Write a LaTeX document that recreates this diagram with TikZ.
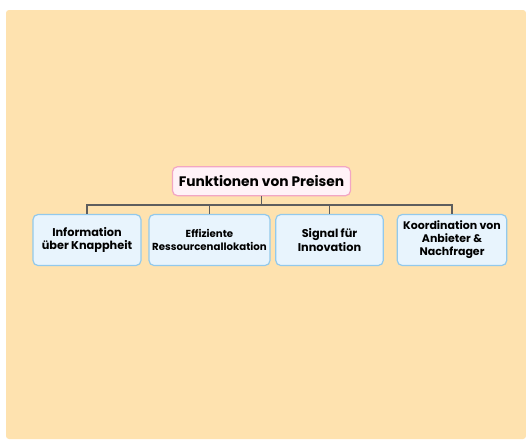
\documentclass[tikz,border=0pt]{standalone}
\usepackage{fontspec}
\setmainfont{Poppins}
\definecolor{panel}{HTML}{FEE2AF}
\definecolor{rootfill}{HTML}{FFF2F8}
\definecolor{rootline}{HTML}{F2A6C4}
\definecolor{leaffill}{HTML}{E8F4FD}
\definecolor{leafline}{HTML}{92C9EC}
\definecolor{link}{HTML}{5E5E5E}
\begin{document}
\begin{tikzpicture}[x=1pt,y=-1pt,
  rootbox/.style={draw=rootline,fill=rootfill,line width=1.2pt,rounded corners=5pt,
    minimum width=178pt,minimum height=29pt,inner sep=0pt,font=\bfseries\fontsize{13.8}{15}\selectfont},
  leafbox/.style={draw=leafline,fill=leaffill,line width=1.2pt,rounded corners=5pt,
    minimum height=51pt,inner sep=0pt,align=center,font=\bfseries\fontsize{11.3}{13.5}\selectfont},
  connector/.style={draw=link,line width=1.1pt}]
\useasboundingbox (0,0) rectangle (526,439);
\fill[white] (0,0) rectangle (526,439);
\fill[panel,rounded corners=3pt] (6,439) |- (526,10) -- (526,439) -- cycle;

\node[rootbox] (root) at (261.5,181.2) {Funktionen von Preisen};

\node[leafbox,minimum width=108pt] (info) at (87,240) {Information\\über Knappheit};
\node[leafbox,minimum width=121pt,font=\bfseries\fontsize{10.2}{13.5}\selectfont] (alloc) at (209.5,240) {Effiziente\\Ressourcenallokation};
\node[leafbox,minimum width=107.5pt] (signal) at (329.5,240) {Signal für\\Innovation};
\node[leafbox,minimum width=109.5pt,font=\bfseries\fontsize{11}{13}\selectfont] (coord) at (452,240) {Koordination von\\Anbieter \&\\Nachfrager};

\coordinate (bus) at (261.5,205);
\draw[connector] (root.south) -- (bus);
\foreach \leaf in {info,alloc,signal,coord}
  \draw[connector] (\leaf.north) |- (bus);
\end{tikzpicture}
\end{document}
